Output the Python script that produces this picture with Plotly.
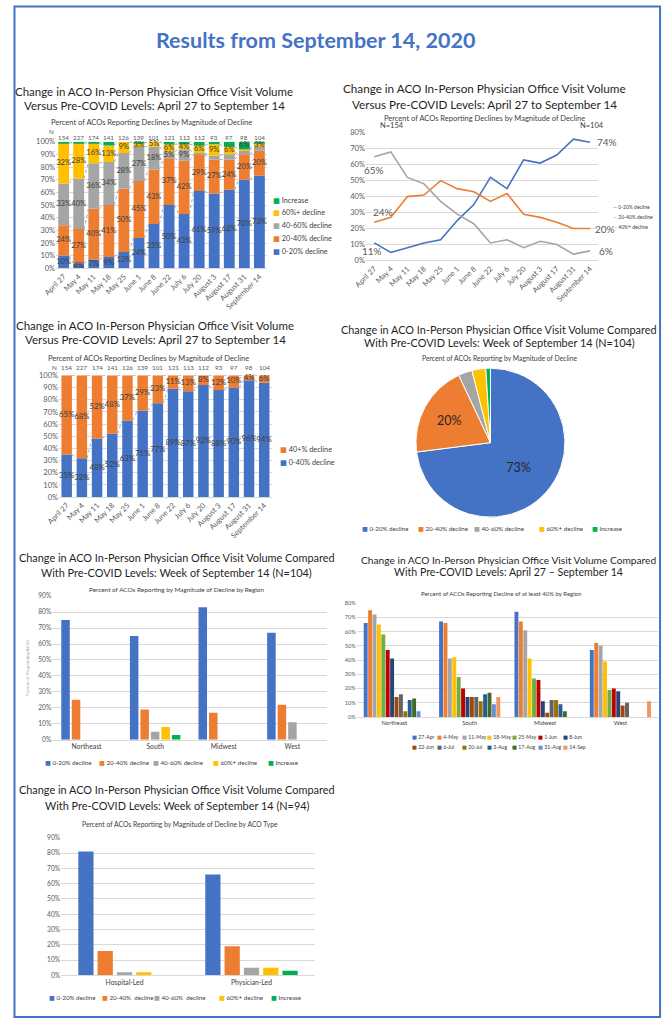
import plotly.graph_objects as go
import numpy as np

W, H = 663, 1024
FONT = "Lato, 'DejaVu Sans', sans-serif"
TXT = "#1f1f1f"
SUB = "#404040"
TICK = "#595959"
GRID = "#D9D9D9"
BLUE = "#4472C4"; ORANGE = "#ED7D31"; GREY = "#A5A5A5"; YELLOW = "#FFC000"; GREEN = "#00B050"

# ---------------- data ----------------
weeks = ["April 27", "May 4", "May 11", "May 18", "May 25", "June 1", "June 8", "June 22",
         "July 6", "July 20", "August 3", "August 17", "August 31", "September 14"]
n_resp = [154, 227, 174, 141, 126, 139, 101, 121, 113, 112, 93, 97, 98, 104]

# panel 1: five-level stacked
p1_0_20 = [10, 4, 7, 9, 13, 24, 35, 50, 43, 61, 59, 62, 70, 73]
p1_20_40 = [24, 27, 40, 41, 50, 45, 43, 37, 42, 29, 27, 24, 20, 20]
p1_40_60 = [33, 40, 36, 34, 28, 27, 18, 5, 9, 1, 3, 4, 3, 3]
p1_60p = [32, 28, 16, 13, 9, 3, 5, 6, 4, 6, 9, 6, 1, 3]
p1_inc = [1, 1, 1, 3, 1, 1, 0, 2, 2, 3, 2, 4, 6, 1]

# panel 2: lines
p2_0_20 = [11, 5, 8, 11, 13, 25, 35, 52, 45, 63, 61, 66, 76, 74]
p2_20_40 = [24, 27, 40, 41, 50, 45, 43, 37, 42, 29, 27, 24, 20, 20]
p2_40p = [65, 68, 52, 48, 37, 29, 23, 11, 13, 8, 12, 10, 4, 6]

# panel 3: two-level stacked
p3_0_40 = [35, 32, 48, 52, 63, 71, 77, 89, 87, 92, 88, 90, 96, 94]
p3_40p = [65, 68, 52, 48, 37, 29, 23, 11, 13, 8, 12, 10, 4, 6]

# panel 4: pie
levels = ["0-20% decline", "20-40% decline", "40-60% decline", "60%+ decline", "Increase"]
pie_values = [73, 20, 3, 3, 1]

# panel 5: by region
regions = ["Northeast", "South", "Midwest", "West"]
reg_0_20 = [75, 65, 83, 67]
reg_20_40 = [25, 19, 17, 22]
reg_40_60 = [0, 5, 0, 11]
reg_60p = [0, 8, 0, 0]
reg_inc = [0, 3, 0, 0]

# panel 6: decline >= 40% by region and week
week_short = ["27-Apr", "4-May", "11-May", "18-May", "25-May", "1-Jun", "8-Jun",
              "22-Jun", "6-Jul", "20-Jul", "3-Aug", "17-Aug", "31-Aug", "14-Sep"]
ne_40 = [66, 75, 72, 65, 58, 47, 41, 14, 16, 4, 12, 13, 4, 0]
so_40 = [67, 66, 41, 42, 28, 20, 14, 14, 14, 11, 16, 17, 9, 14]
mw_40 = [74, 67, 61, 41, 27, 26, 11, 3, 12, 12, 9, 4, 0, 0]
we_40 = [47, 52, 50, 39, 19, 20, 18, 8, 10, 0, 0, 0, 0, 11]

# panel 7: by ACO type
aco_types = ["Hospital-Led", "Physician-Led"]
typ_0_20 = [81, 66]
typ_20_40 = [16, 19]
typ_40_60 = [2, 5]
typ_60p = [2, 5]
typ_inc = [0, 3]
typ_names = ["0-20% decline", "20-40%&nbsp; decline", "40-60%&nbsp; decline", "60%+ decline", "Increase"]

# ---------------- styles ----------------
LVL_COLORS = [BLUE, ORANGE, GREY, YELLOW, GREEN]
WEEK_COLORS = ["#4472C4", "#ED7D31", "#A5A5A5", "#FFC000", "#70AD47", "#C00000", "#264478",
               "#9E480E", "#636363", "#997300", "#255E91", "#43682B", "#698ED0", "#F1975A"]

fig = go.Figure()
axes = {}
annotations = []


def ann(text, x, y, size, color=TXT, xanchor="center", yanchor="middle", **kw):
    d = dict(text=text, x=x / W, y=1 - y / H, xref="paper", yref="paper", showarrow=False,
             font=dict(family=FONT, size=size, color=color), xanchor=xanchor, yanchor=yanchor)
    d.update(kw)
    annotations.append(d)


def legend_item(text, color, x, y, size, glyph="■"):
    ann(f'<span style="color:{color}">{glyph}</span> {text}', x, y, size, SUB, xanchor="left")


def setup_axes(k, x0, x1, ytop, ybot, yrange, dtick, ticktext, fx, fy, angle=0, xcol=TICK):
    s = "" if k == 1 else str(k)
    axes["xaxis" + s] = dict(domain=[x0 / W, x1 / W], anchor="y" + s, range=[-0.5, len(ticktext) - 0.5],
                             tickmode="array", tickvals=list(range(len(ticktext))), ticktext=ticktext,
                             tickangle=angle, showgrid=False, zeroline=False, showline=True,
                             linecolor=GRID, linewidth=1, ticks="",
                             tickfont=dict(family=FONT, size=fx, color=xcol))
    axes["yaxis" + s] = dict(domain=[1 - ybot / H, 1 - ytop / H], anchor="x" + s, range=yrange,
                             dtick=dtick, ticksuffix="%", showgrid=True, gridcolor=GRID, gridwidth=1,
                             zeroline=False, showline=False, ticks="",
                             tickfont=dict(family=FONT, size=fy, color=TICK))


def stacked(series, colors, k, width, min_show, label_size):
    s = "" if k == 1 else str(k)
    n = len(series[0])
    x = np.arange(n)
    base = np.zeros(n)
    tops = []
    for vals, col, mn in zip(series, colors, min_show):
        v = np.array(vals, float)
        fig.add_trace(go.Bar(x=x, y=v, base=base, width=width, marker=dict(color=col, line=dict(width=0)),
                             xaxis="x" + s, yaxis="y" + s, hoverinfo="skip"))
        fig.add_trace(go.Scatter(x=x, y=np.minimum(base + v / 2, 98), mode="text",
                                 text=[f"{int(t)}%" if t >= mn else "" for t in v],
                                 textfont=dict(family=FONT, size=label_size, color=SUB),
                                 xaxis="x" + s, yaxis="y" + s, hoverinfo="skip", cliponaxis=False))
        base = base + v
        tops.append(np.minimum(base, 100))
    return tops


def connectors(tops, k, width, which):
    s = "" if k == 1 else str(k)
    for idx in which:
        t = tops[idx]
        xs, ys = [], []
        for i in range(len(t) - 1):
            xs += [i + width / 2, i + 1 - width / 2, None]
            ys += [t[i], t[i + 1], None]
        fig.add_trace(go.Scatter(x=xs, y=ys, mode="lines", line=dict(color="#8FAADC", width=1, dash="dot"),
                                 xaxis="x" + s, yaxis="y" + s, hoverinfo="skip"))


def grouped(series, colors, k, width, step):
    s = "" if k == 1 else str(k)
    m = len(series)
    for j, (vals, col) in enumerate(zip(series, colors)):
        fig.add_trace(go.Bar(x=list(range(len(vals))), y=vals, width=width,
                             offset=(j - (m - 1) / 2) * step - width / 2,
                             marker=dict(color=col, line=dict(width=0)),
                             xaxis="x" + s, yaxis="y" + s, hoverinfo="skip"))


# ---------------- main title ----------------
ann("<b>Results from September 14, 2020</b>", 309, 35, 21.5, BLUE)

# ---------------- panel 1 ----------------
ann("Change in ACO In-Person Physician Office Visit Volume", 144, 87, 11.5)
ann("Versus Pre-COVID Levels: April 27 to September 14", 144, 101, 11.5)
ann("Percent of ACOs Reporting Declines by Magnitude of Decline", 141, 119, 7.5, SUB)
setup_axes(1, 44, 259, 138, 266, [0, 100], 10, weeks, 7.5, 7.5, angle=-45)
tops1 = stacked([p1_0_20, p1_20_40, p1_40_60, p1_60p, p1_inc], LVL_COLORS, 1, 0.72, [0, 0, 5, 3, 6], 7.6)
connectors(tops1, 1, 0.72, [0, 1, 2, 3, 4])
ann("N", 39, 128, 6.3, TICK)
for i, n in enumerate(n_resp):
    annotations.append(dict(text=str(n), x=i, y=1 - 128 / H, xref="x", yref="paper", showarrow=False,
                            font=dict(family=FONT, size=6.3, color=TICK)))
for j, (name, col) in enumerate(zip(levels[::-1], LVL_COLORS[::-1])):
    legend_item(name, col, 263, 197 + j * 12.9, 7.3)

# ---------------- panel 2 ----------------
ann("Change in ACO In-Person Physician Office Visit Volume", 481, 84, 11.7)
ann("Versus Pre-COVID Levels: April 27 to September 14", 481, 100, 11.7)
ann("Percent of ACOs Reporting Declines by Magnitude of Decline", 481, 115, 7.5, SUB)
setup_axes(2, 360, 597, 129, 258, [0, 80], 10, weeks, 7.5, 7.5, angle=-45)
p2 = [("0-20% decline", p2_0_20, BLUE), ("20-40% decline", p2_20_40, ORANGE), ("40%+ decline", p2_40p, GREY)]
for name, vals, col in p2:
    fig.add_trace(go.Scatter(x=list(range(len(vals))), y=vals, mode="lines", line=dict(color=col, width=1.6),
                             xaxis="x2", yaxis="y2", hoverinfo="skip"))
for j, (name, vals, col) in enumerate(p2):
    legend_item(name, col, 610, 204.3 + j * 9.9, 5, glyph="—")


def dlab(text, xi, yv, **kw):
    d = dict(text=text, x=xi, y=yv, xref="x2", yref="y2", showarrow=False,
             font=dict(family=FONT, size=10, color=TICK))
    d.update(kw)
    annotations.append(d)


last = len(weeks) - 1
dlab(f"N={n_resp[0]}", 0, 80, yshift=7, xshift=4, xanchor="left", font=dict(family=FONT, size=7.5, color=SUB))
dlab(f"N={n_resp[-1]}", last, 80, yshift=7, xshift=2, xanchor="center", font=dict(family=FONT, size=7.5, color=SUB))
dlab(f"{p2_40p[0]}%", 0, p2_40p[0], yshift=-13, xshift=0)
dlab(f"{p2_20_40[0]}%", 0, p2_20_40[0], yshift=10, xshift=9)
dlab(f"{p2_0_20[0]}%", 0, p2_0_20[0], yshift=-8, xshift=-2)
dlab(f"{p2_0_20[-1]}%", last, p2_0_20[-1], xanchor="left", xshift=5)
dlab(f"{p2_20_40[-1]}%", last, p2_20_40[-1], xanchor="left", xshift=3)
dlab(f"{p2_40p[-1]}%", last, p2_40p[-1], xanchor="left", xshift=7)

# ---------------- panel 3 ----------------
ann("Change in ACO In-Person Physician Office Visit Volume", 145, 324, 11.5)
ann("Versus Pre-COVID Levels: April 27 to September 14", 145, 338, 11.5)
ann("Percent of ACOs Reporting Declines by Magnitude of Decline", 138, 357, 7.5, SUB)
setup_axes(3, 47, 264, 374, 497, [0, 100], 10, weeks, 7.5, 7.5, angle=-45)
tops3 = stacked([p3_0_40, p3_40p], [BLUE, ORANGE], 3, 0.69, [0, 0], 7.8)
connectors(tops3, 3, 0.69, [0, 1])
ann("N", 42, 366, 6.3, TICK)
for i, n in enumerate(n_resp):
    annotations.append(dict(text=str(n), x=i, y=1 - 366 / H, xref="x3", yref="paper", showarrow=False,
                            font=dict(family=FONT, size=6.3, color=TICK)))
legend_item("40+% decline", ORANGE, 270, 449, 7.3)
legend_item("0-40% decline", BLUE, 270, 462, 7.3)

# ---------------- panel 4 (pie) ----------------
ann("Change in ACO In-Person Physician Office Visit Volume Compared", 496, 328, 10.9)
ann("With Pre-COVID Levels: Week of September 14 (N=104)", 496, 341, 10.9)
ann("Percent of ACOs Reporting by Magnitude of Decline", 497, 356, 6.8, SUB)
fig.add_trace(go.Pie(labels=levels, values=pie_values, sort=False, direction="clockwise", rotation=0,
                     marker=dict(colors=LVL_COLORS, line=dict(color="white", width=1)),
                     text=[f"{v}%" if v >= 10 else "" for v in pie_values], textinfo="text",
                     textposition="inside", insidetextorientation="horizontal",
                     textfont=dict(family=FONT, size=12.5, color="#262626"),
                     domain=dict(x=[411 / W, 563 / W], y=[1 - 518 / H, 1 - 366 / H]),
                     hoverinfo="skip", showlegend=False))
for name, col, xm in zip(levels, LVL_COLORS, [354, 411, 468, 534, 589]):
    legend_item(name, col, xm, 529, 6.2)

# ---------------- panel 5 ----------------
ann("Change in ACO In-Person Physician Office Visit Volume Compared", 167, 558, 10.9)
ann("With Pre-COVID Levels: Week of September 14 (N=104)", 167, 573, 10.9)
ann("Percent of ACOs Reporting by Magnitude of Decline by Region", 167, 590, 6.4, SUB)
setup_axes(4, 40, 320, 597, 742, [0, 90], 10, regions, 6.8, 6.6, xcol=SUB)
grouped([reg_0_20, reg_20_40, reg_40_60, reg_60p, reg_inc], LVL_COLORS, 4, 0.124, 0.153)
ann("Portion of Responding ACOs", 15, 670, 4.5, "#A6A6A6", textangle=-90)
for name, col, xm in zip(levels, LVL_COLORS, [31, 85.5, 140.5, 202, 258.5]):
    legend_item(name, col, xm, 765, 6.2)

# ---------------- panel 6 ----------------
ann("Change in ACO In-Person Physician Office Visit Volume Compared", 505, 560, 10.2)
ann("With Pre-COVID Levels: April 27 \u2013 September 14", 505, 573, 10.6)
ann("Percent of ACOs Reporting Decline of at least 40% by Region", 498, 594, 6, SUB)
setup_axes(5, 350.5, 658, 604, 719, [0, 80], 10, regions, 5.8, 5.6, xcol=SUB)
region_sets = [ne_40, so_40, mw_40, we_40]
week_series = [[r[k] for r in region_sets] for k in range(len(week_short))]
grouped(week_series, WEEK_COLORS, 5, 0.052, 0.0584)
for k, (name, col) in enumerate(zip(week_short, WEEK_COLORS)):
    legend_item(name, col, 405 + (k % 7) * 25.6, 739 + (k // 7) * 10, 5.2)

# ---------------- panel 7 ----------------
ann("Change in ACO In-Person Physician Office Visit Volume Compared", 167.5, 792, 10.9)
ann("With Pre-COVID Levels: Week of September 14 (N=94)", 167.5, 808, 10.9)
ann("Percent of ACOs Reporting by Magnitude of Decline by ACO Type", 170, 827, 6.8, SUB)
setup_axes(6, 49, 308, 841, 980, [0, 90], 10, aco_types, 6.8, 6.6, xcol=SUB)
grouped([typ_0_20, typ_20_40, typ_40_60, typ_60p, typ_inc], LVL_COLORS, 6, 0.12, 0.152)
for name, col, xm in zip(typ_names, LVL_COLORS, [34.5, 88.5, 142, 208.5, 261]):
    legend_item(name, col, xm, 1002, 6.2)

fig.update_layout(
    width=W, height=H, margin=dict(l=0, r=0, t=0, b=0),
    paper_bgcolor="white", plot_bgcolor="white", showlegend=False, barmode="overlay",
    font=dict(family=FONT, color=TXT),
    annotations=annotations,
    shapes=[dict(type="rect", xref="paper", yref="paper", x0=1.5 / W, x1=660 / W, y0=1 - 1022 / H,
                 y1=1 - 1.5 / H, line=dict(color=BLUE, width=2), fillcolor="rgba(0,0,0,0)")],
    **axes,
)
fig.write_html("out.html", config={"displayModeBar": False},
               post_script="document.body.style.margin='0';document.body.style.overflow='hidden';")
